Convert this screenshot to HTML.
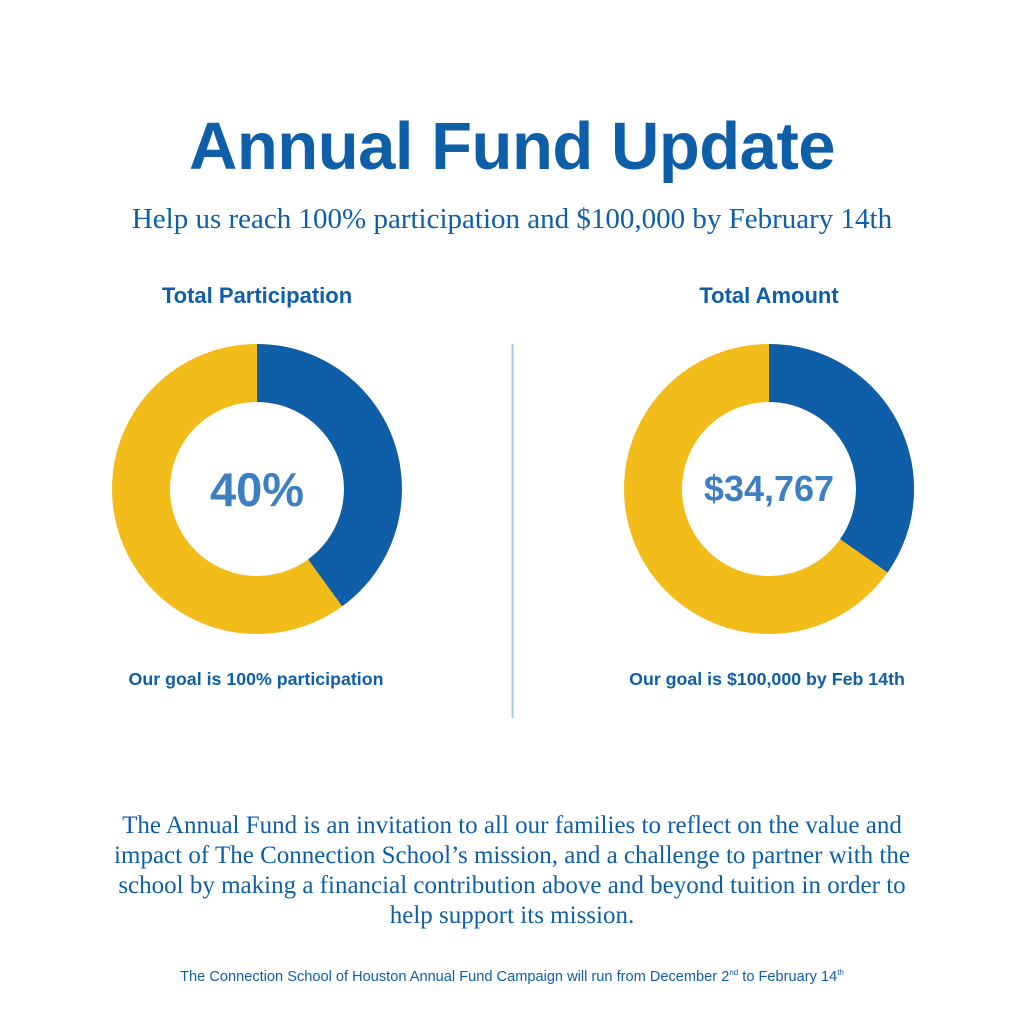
<!DOCTYPE html>
<html><head><meta charset="utf-8"><style>
body{margin:0;background:#fff;}
.wrap{position:relative;width:1024px;height:1024px;overflow:hidden;font-family:"Liberation Sans",sans-serif;}
.t{position:absolute;left:0;width:1024px;text-align:center;color:#0f5fa8;white-space:nowrap;}
</style></head><body><div class="wrap">
<div class="t" style="top:108px;font-size:67px;font-weight:bold;letter-spacing:-0.5px;">Annual Fund Update</div>
<div class="t" style="top:203px;font-family:'Liberation Serif',serif;font-size:29px;">Help us reach 100% participation and $100,000 by February 14th</div>
<div class="t" style="top:283px;left:-255px;font-size:22px;font-weight:bold;">Total Participation</div>
<div class="t" style="top:283px;left:257px;font-size:22px;font-weight:bold;">Total Amount</div>
<svg width="1024" height="1024" style="position:absolute;left:0;top:0">
<circle cx="257" cy="489" r="116" fill="none" stroke="#f2bc1b" stroke-width="58"/>
<path d="M257,344 A145,145 0 0 1 342.2,606.3 L308.1,559.4 A87,87 0 0 0 257,402 Z" fill="#0f5fa8"/>
<circle cx="769" cy="489" r="116" fill="none" stroke="#f2bc1b" stroke-width="58"/>
<path d="M769,344 A145,145 0 0 1 887.6,572.5 L840.1,539.1 A87,87 0 0 0 769,402 Z" fill="#0f5fa8"/>
<line x1="512.5" y1="344" x2="512.5" y2="718" stroke="#a9c8e6" stroke-width="2"/>
<text x="257" y="506" text-anchor="middle" font-family="Liberation Sans" font-size="47" font-weight="bold" fill="#3d7fc1">40%</text>
<text x="769" y="501" text-anchor="middle" font-family="Liberation Sans" font-size="36" font-weight="bold" fill="#3d7fc1">$34,767</text>
</svg>
<div class="t" style="top:669px;left:-256px;font-size:17.8px;font-weight:bold;">Our goal is 100% participation</div>
<div class="t" style="top:669px;left:255px;font-size:17.8px;font-weight:bold;">Our goal is $100,000 by Feb 14th</div>
<div class="t" style="top:811px;font-family:'Liberation Serif',serif;font-size:25px;line-height:30px;white-space:normal;">The Annual Fund is an invitation to all our families to reflect on the value and<br>impact of The Connection School’s mission, and a challenge to partner with the<br>school by making a financial contribution above and beyond tuition in order to<br>help support its mission.</div>
<div class="t" style="top:968px;font-size:14.6px;">The Connection School of Houston Annual Fund Campaign will run from December 2<sup style="font-size:8px">nd</sup> to February 14<sup style="font-size:8px">th</sup></div>
</div></body></html>
